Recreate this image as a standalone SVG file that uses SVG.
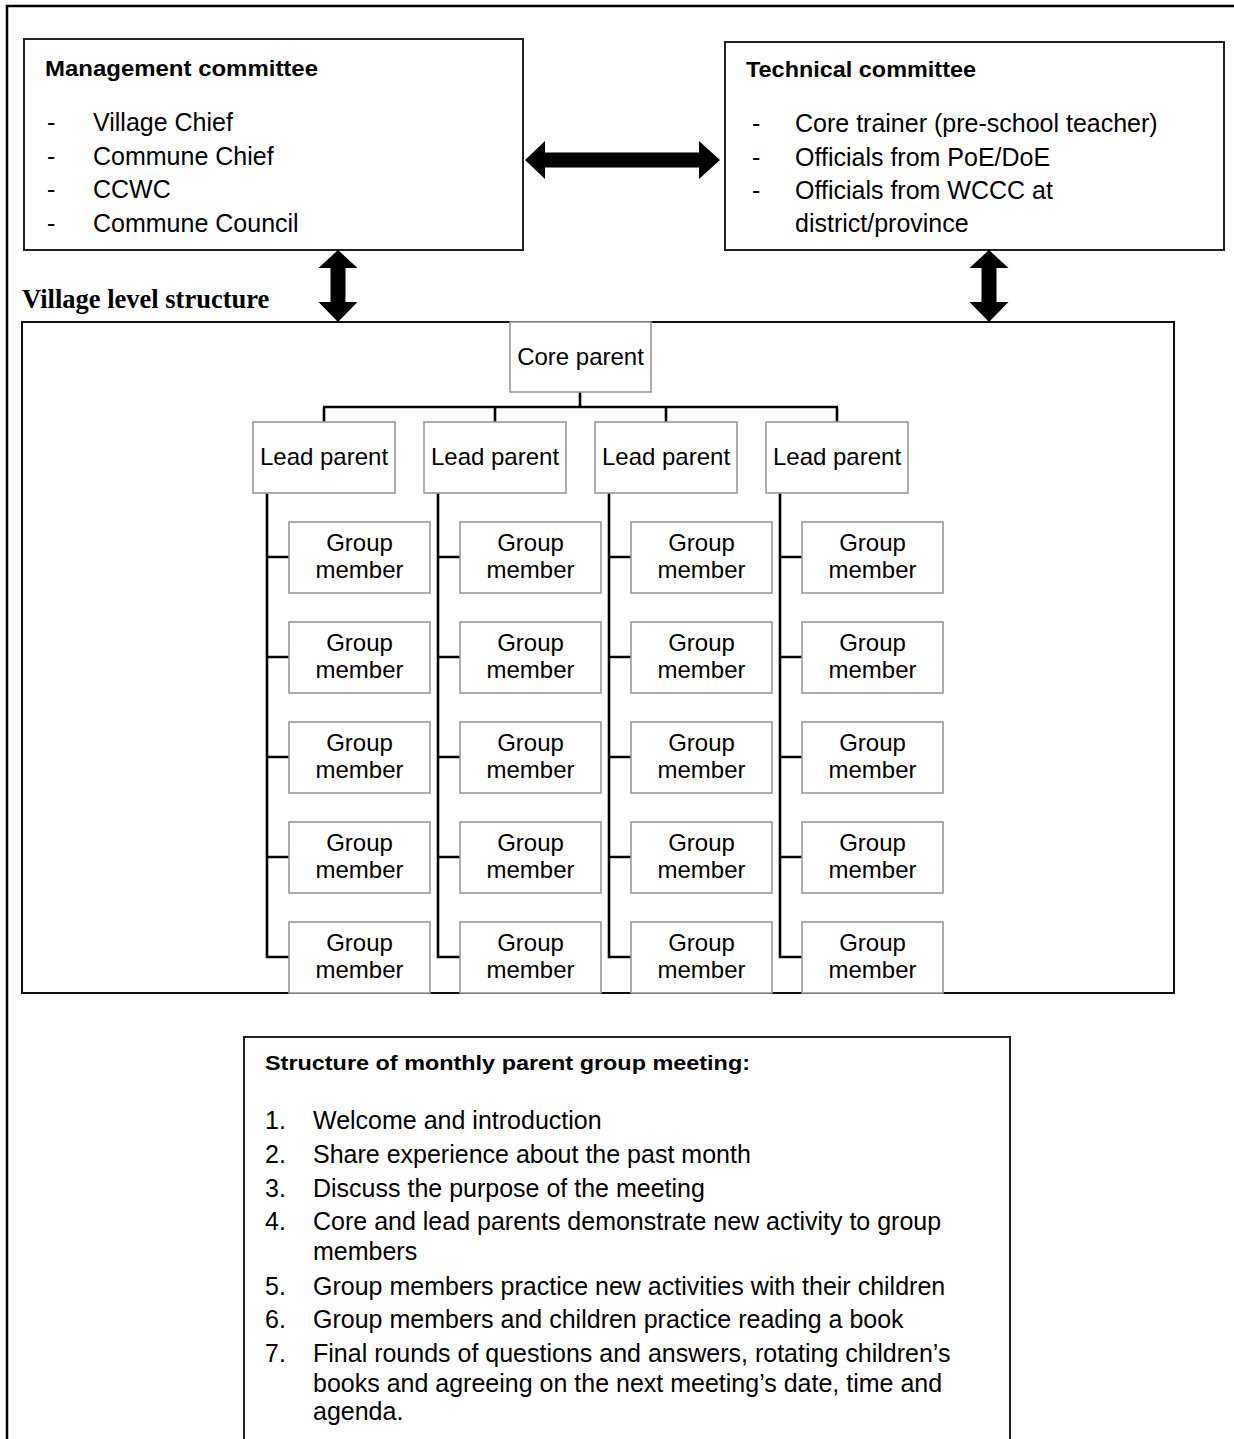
<svg xmlns="http://www.w3.org/2000/svg" width="1234" height="1439" viewBox="0 0 1234 1439">
<style>
.frame{fill:none;stroke:#000;stroke-width:2.5}
.cbox{fill:#fff;stroke:#222;stroke-width:2}
.vbox{fill:none;stroke:#111;stroke-width:2}
.nbox{fill:#fff;stroke:#999;stroke-width:1.6}
.conn{fill:none;stroke:#000;stroke-width:2.6}
.arrow{fill:#000;stroke:none}
.t{font-family:"Liberation Sans",Arial,sans-serif;font-size:24px;fill:#000}
.tc{font-family:"Liberation Sans",Arial,sans-serif;font-size:24px;fill:#000;text-anchor:middle}
.l{font-family:"Liberation Sans",Arial,sans-serif;font-size:25px;fill:#000}
.h{font-family:"Liberation Sans",Arial,sans-serif;font-size:22.5px;font-weight:bold;fill:#000}
.hs{font-family:"Liberation Sans",Arial,sans-serif;font-size:20.5px;font-weight:bold;fill:#000}
.vt{font-family:"Liberation Serif","Times New Roman",serif;font-size:26.5px;font-weight:bold;fill:#000}
</style>
<rect width="1234" height="1439" fill="#fff"/>
<path class="frame" d="M7,1439 V6 H1234"/>

<g id="management">
<rect class="cbox" x="24" y="39" width="499" height="211"/>
<text class="h" x="45" y="76" textLength="273" lengthAdjust="spacingAndGlyphs">Management committee</text>
<text class="l" x="47" y="131">-</text><text class="l" x="93" y="131">Village Chief</text>
<text class="l" x="47" y="165">-</text><text class="l" x="93" y="165">Commune Chief</text>
<text class="l" x="47" y="198">-</text><text class="l" x="93" y="198">CCWC</text>
<text class="l" x="47" y="232">-</text><text class="l" x="93" y="232">Commune Council</text>
</g>

<g id="technical">
<rect class="cbox" x="725" y="42" width="499" height="208"/>
<text class="h" x="746" y="77" textLength="230" lengthAdjust="spacingAndGlyphs">Technical committee</text>
<text class="l" x="752" y="132">-</text><text class="l" x="795" y="132">Core trainer (pre-school teacher)</text>
<text class="l" x="752" y="166">-</text><text class="l" x="795" y="166">Officials from PoE/DoE</text>
<text class="l" x="752" y="199">-</text><text class="l" x="795" y="199">Officials from WCCC at</text>
<text class="l" x="795" y="232">district/province</text>
</g>

<text class="vt" x="22" y="308">Village level structure</text>

<g id="village">
<rect class="vbox" x="22" y="322" width="1152" height="671"/>
</g>

<g id="connectors">
<polygon class="arrow" points="525,160 545,141 545,152.5 699,152.5 699,141 720,160 699,179 699,167.5 545,167.5 545,179"/>
<polygon class="arrow" points="338,250 357.5,268 345.5,268 345.5,302 357.5,302 338,322 318.5,302 330.5,302 330.5,268 318.5,268"/>
<polygon class="arrow" points="989,250 1008.5,268 996.5,268 996.5,302 1008.5,302 989,322 969.5,302 981.5,302 981.5,268 969.5,268"/>
<path class="conn" d="M580,392 V407 M323,407 H838 M324,407 V422 M495,407 V422 M666,407 V422 M837,407 V422"/>
<path class="conn" d="M267,493 V957 H289 M267,557 H289 M267,657 H289 M267,757 H289 M267,857 H289"/>
<path class="conn" d="M438,493 V957 H460 M438,557 H460 M438,657 H460 M438,757 H460 M438,857 H460"/>
<path class="conn" d="M609,493 V957 H631 M609,557 H631 M609,657 H631 M609,757 H631 M609,857 H631"/>
<path class="conn" d="M780,493 V957 H802 M780,557 H802 M780,657 H802 M780,757 H802 M780,857 H802"/>
</g>

<g id="core-parent">
<rect class="nbox" x="510" y="322" width="141" height="70"/>
<text class="tc" x="580.5" y="365">Core parent</text>
</g>

<g id="lead-1"><rect class="nbox" x="253" y="422" width="142" height="71"/><text class="tc" x="324" y="465">Lead parent</text></g>
<g id="lead-2"><rect class="nbox" x="424" y="422" width="142" height="71"/><text class="tc" x="495" y="465">Lead parent</text></g>
<g id="lead-3"><rect class="nbox" x="595" y="422" width="142" height="71"/><text class="tc" x="666" y="465">Lead parent</text></g>
<g id="lead-4"><rect class="nbox" x="766" y="422" width="142" height="71"/><text class="tc" x="837" y="465">Lead parent</text></g>

<g id="members-1">
<g id="m1-1"><rect class="nbox" x="289" y="522" width="141" height="71"/><text class="tc" x="359.5" y="551">Group</text><text class="tc" x="359.5" y="578">member</text></g>
<g id="m1-2"><rect class="nbox" x="289" y="622" width="141" height="71"/><text class="tc" x="359.5" y="651">Group</text><text class="tc" x="359.5" y="678">member</text></g>
<g id="m1-3"><rect class="nbox" x="289" y="722" width="141" height="71"/><text class="tc" x="359.5" y="751">Group</text><text class="tc" x="359.5" y="778">member</text></g>
<g id="m1-4"><rect class="nbox" x="289" y="822" width="141" height="71"/><text class="tc" x="359.5" y="851">Group</text><text class="tc" x="359.5" y="878">member</text></g>
<g id="m1-5"><rect class="nbox" x="289" y="922" width="141" height="71"/><text class="tc" x="359.5" y="951">Group</text><text class="tc" x="359.5" y="978">member</text></g>
</g>
<g id="members-2">
<g id="m2-1"><rect class="nbox" x="460" y="522" width="141" height="71"/><text class="tc" x="530.5" y="551">Group</text><text class="tc" x="530.5" y="578">member</text></g>
<g id="m2-2"><rect class="nbox" x="460" y="622" width="141" height="71"/><text class="tc" x="530.5" y="651">Group</text><text class="tc" x="530.5" y="678">member</text></g>
<g id="m2-3"><rect class="nbox" x="460" y="722" width="141" height="71"/><text class="tc" x="530.5" y="751">Group</text><text class="tc" x="530.5" y="778">member</text></g>
<g id="m2-4"><rect class="nbox" x="460" y="822" width="141" height="71"/><text class="tc" x="530.5" y="851">Group</text><text class="tc" x="530.5" y="878">member</text></g>
<g id="m2-5"><rect class="nbox" x="460" y="922" width="141" height="71"/><text class="tc" x="530.5" y="951">Group</text><text class="tc" x="530.5" y="978">member</text></g>
</g>
<g id="members-3">
<g id="m3-1"><rect class="nbox" x="631" y="522" width="141" height="71"/><text class="tc" x="701.5" y="551">Group</text><text class="tc" x="701.5" y="578">member</text></g>
<g id="m3-2"><rect class="nbox" x="631" y="622" width="141" height="71"/><text class="tc" x="701.5" y="651">Group</text><text class="tc" x="701.5" y="678">member</text></g>
<g id="m3-3"><rect class="nbox" x="631" y="722" width="141" height="71"/><text class="tc" x="701.5" y="751">Group</text><text class="tc" x="701.5" y="778">member</text></g>
<g id="m3-4"><rect class="nbox" x="631" y="822" width="141" height="71"/><text class="tc" x="701.5" y="851">Group</text><text class="tc" x="701.5" y="878">member</text></g>
<g id="m3-5"><rect class="nbox" x="631" y="922" width="141" height="71"/><text class="tc" x="701.5" y="951">Group</text><text class="tc" x="701.5" y="978">member</text></g>
</g>
<g id="members-4">
<g id="m4-1"><rect class="nbox" x="802" y="522" width="141" height="71"/><text class="tc" x="872.5" y="551">Group</text><text class="tc" x="872.5" y="578">member</text></g>
<g id="m4-2"><rect class="nbox" x="802" y="622" width="141" height="71"/><text class="tc" x="872.5" y="651">Group</text><text class="tc" x="872.5" y="678">member</text></g>
<g id="m4-3"><rect class="nbox" x="802" y="722" width="141" height="71"/><text class="tc" x="872.5" y="751">Group</text><text class="tc" x="872.5" y="778">member</text></g>
<g id="m4-4"><rect class="nbox" x="802" y="822" width="141" height="71"/><text class="tc" x="872.5" y="851">Group</text><text class="tc" x="872.5" y="878">member</text></g>
<g id="m4-5"><rect class="nbox" x="802" y="922" width="141" height="71"/><text class="tc" x="872.5" y="951">Group</text><text class="tc" x="872.5" y="978">member</text></g>
</g>

<g id="meeting">
<path class="cbox" d="M244,1439 V1037 H1010 V1439"/>
<text class="hs" x="265" y="1070" textLength="485" lengthAdjust="spacingAndGlyphs">Structure of monthly parent group meeting:</text>
<text class="l" x="265" y="1129">1.</text><text class="l" x="313" y="1129">Welcome and introduction</text>
<text class="l" x="265" y="1163">2.</text><text class="l" x="313" y="1163">Share experience about the past month</text>
<text class="l" x="265" y="1197">3.</text><text class="l" x="313" y="1197">Discuss the purpose of the meeting</text>
<text class="l" x="265" y="1230">4.</text><text class="l" x="313" y="1230">Core and lead parents demonstrate new activity to group</text>
<text class="l" x="313" y="1260">members</text>
<text class="l" x="265" y="1295">5.</text><text class="l" x="313" y="1295">Group members practice new activities with their children</text>
<text class="l" x="265" y="1328">6.</text><text class="l" x="313" y="1328">Group members and children practice reading a book</text>
<text class="l" x="265" y="1362">7.</text><text class="l" x="313" y="1362">Final rounds of questions and answers, rotating children’s</text>
<text class="l" x="313" y="1392">books and agreeing on the next meeting’s date, time and</text>
<text class="l" x="313" y="1420">agenda.</text>
</g>
</svg>
